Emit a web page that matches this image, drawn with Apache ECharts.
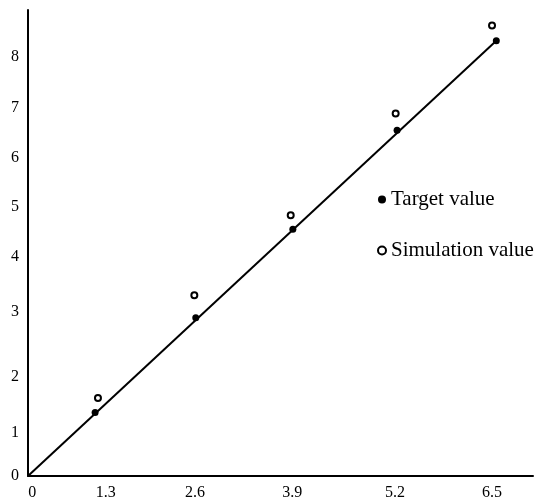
<!DOCTYPE html>
<html>
<head>
<meta charset="utf-8">
<script src="https://cdn.jsdelivr.net/npm/echarts@6/dist/echarts.min.js"></script>
<style>
  html, body { margin: 0; padding: 0; background: #fff; }
  #chart { width: 535px; height: 502px; }
</style>
</head>
<body>
<div id="chart"></div>
<script>
// values are in the plot's own linear units
const targetX = [0.94, 2.35, 3.71, 5.17, 6.56];
const targetY = [1.21, 3.02, 4.71, 6.60, 8.31];
const simX = [0.98, 2.33, 3.68, 5.15, 6.50];
const simY = [1.49, 3.45, 4.98, 6.92, 8.60];

// tick labels, and where each one sits on its axis
const xTickLabels = ['0', '1.3', '2.6', '3.9', '5.2', '6.5'];
const xTickValues = [0.06, 1.09, 2.34, 3.70, 5.14, 6.50];
const yTickLabels = ['0', '1', '2', '3', '4', '5', '6', '7', '8'];
const yTickValues = [0, 0.82, 1.89, 3.13, 4.18, 5.14, 6.07, 7.03, 8.0];

const serif = '"Liberation Serif", "Times New Roman", serif';

function pickLabel(values, labels) {
  return function (v) {
    let best = 0;
    for (let i = 1; i < values.length; i++) {
      if (Math.abs(values[i] - v) < Math.abs(values[best] - v)) best = i;
    }
    return labels[best];
  };
}

const zip = (xs, ys) => xs.map((x, i) => [x, ys[i]]);
const last = targetX.length - 1;

const chart = echarts.init(document.getElementById('chart'));
chart.setOption({
  animation: false,
  backgroundColor: '#fff',
  grid: {
    left: 28,
    right: 2,
    top: 10,
    bottom: 26,
    outerBoundsMode: 'none',
  },
  legend: {
    orient: 'vertical',
    left: 377,
    top: 189,
    padding: 0,
    itemWidth: 8,
    itemHeight: 8,
    itemGap: 30,
    selectedMode: false,
    textStyle: {
      fontFamily: serif,
      fontSize: 21,
      lineHeight: 21,
      color: '#000',
    },
    data: ['Target value', 'Simulation value'],
  },
  xAxis: {
    type: 'value',
    min: 0,
    max: 7.074,
    axisLine: { show: true, lineStyle: { color: '#000', width: 2 } },
    axisTick: { show: false },
    splitLine: { show: false },
    axisLabel: {
      customValues: xTickValues,
      formatter: pickLabel(xTickValues, xTickLabels),
      fontFamily: serif,
      fontSize: 16,
      color: '#000',
      margin: 9,
    },
  },
  yAxis: {
    type: 'value',
    min: 0,
    max: 8.897,
    axisLine: { show: true, lineStyle: { color: '#000', width: 2 } },
    axisTick: { show: false },
    splitLine: { show: false },
    axisLabel: {
      customValues: yTickValues,
      formatter: pickLabel(yTickValues, yTickLabels),
      fontFamily: serif,
      fontSize: 16,
      color: '#000',
      margin: 9,
    },
  },
  series: [
    {
      name: 'fit',
      type: 'line',
      data: [[0, 0], [targetX[last], targetY[last]]],
      symbol: 'none',
      lineStyle: { color: '#000', width: 2 },
      z: 1,
    },
    {
      name: 'Target value',
      type: 'scatter',
      data: zip(targetX, targetY),
      symbol: 'circle',
      symbolSize: 7,
      itemStyle: { color: '#000', opacity: 1 },
      z: 3,
    },
    {
      name: 'Simulation value',
      type: 'scatter',
      data: zip(simX, simY),
      symbol: 'emptyCircle',
      symbolSize: 6,
      itemStyle: { color: '#000', borderColor: '#000', borderWidth: 2, opacity: 1 },
      z: 3,
    },
  ],
});
</script>
</body>
</html>
